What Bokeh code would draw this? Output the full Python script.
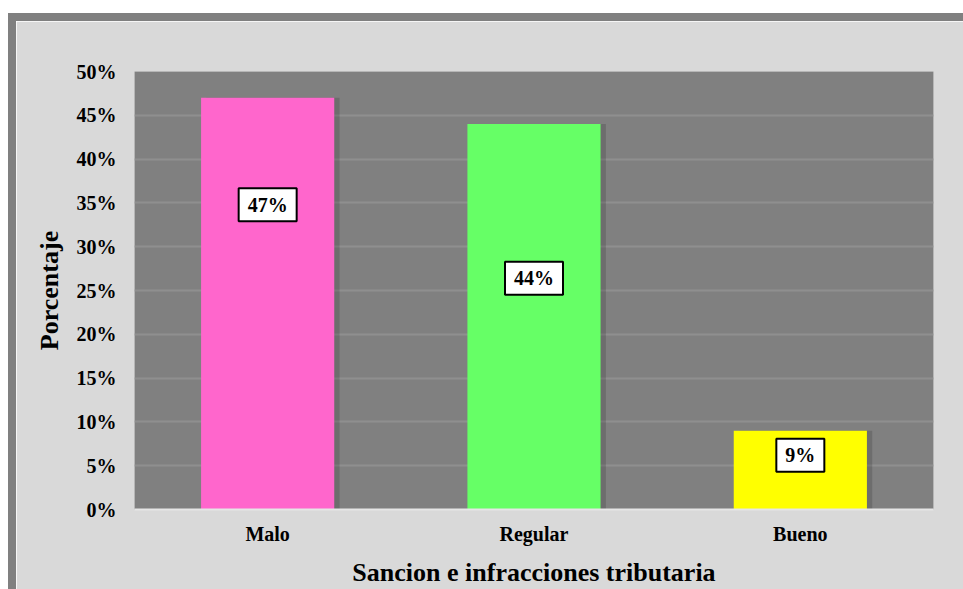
from bokeh.plotting import figure
from bokeh.models import ColumnDataSource, FactorRange, Range1d, NumeralTickFormatter, FixedTicker
from bokeh.core.properties import value
from bokeh.transform import dodge
from bokeh.embed import file_html
from bokeh.resources import INLINE

categories = ["Malo", "Regular", "Bueno"]
values = [0.47, 0.44, 0.09]
labels = ["47%", "44%", "9%"]
label_pos = [0.348, 0.264, 0.062]
colors = ["#ff66cc", "#66ff66", "#ffff00"]
y_ticks = [0, 0.05, 0.10, 0.15, 0.20, 0.25, 0.30, 0.35, 0.40, 0.45, 0.50]

FONT = "Liberation Serif"
LABEL_PX = 20
box_w = [LABEL_PX * (0.5 * (len(s) - 1) + 1.0) + 18 for s in labels]

src = ColumnDataSource(dict(cat=categories, val=values, lab=labels, lpos=label_pos,
                            col=colors, bw=box_w))

p = figure(width=955, height=576, x_range=FactorRange(*categories, range_padding=0),
           y_range=Range1d(0, 0.5), output_backend="svg", toolbar_location=None,
           min_border_left=118, min_border_right=38, min_border_top=50, min_border_bottom=88)
p.styles = {"border-top": "8px solid #808080", "border-left": "8px solid #808080",
            "margin-top": "13px", "margin-left": "8px"}

p.background_fill_color = "#808080"
p.border_fill_color = "#d9d9d9"
p.outline_line_color = None

p.vbar(x=dodge("cat", 0.02, range=p.x_range), top="val", width=0.5, source=src,
       fill_color="black", fill_alpha=0.15, line_color=None)
p.vbar(x="cat", top="val", width=0.5, source=src, fill_color="col", line_color=None)

p.rect(x="cat", y="lpos", width="bw", height=33, width_units="screen", height_units="screen",
       source=src, fill_color="white", line_color="black", line_width=2)
p.text(x="cat", y="lpos", text="lab", source=src, text_align="center", text_baseline="middle",
       text_font=value(FONT), text_font_style="bold", text_font_size=f"{LABEL_PX}px",
       text_color="black")

p.xgrid.grid_line_color = None
p.ygrid.grid_line_color = "#8f8f8f"
p.ygrid.grid_line_width = 2
p.yaxis.ticker = FixedTicker(ticks=y_ticks)
p.yaxis.formatter = NumeralTickFormatter(format="0%")

for ax in (p.xaxis[0], p.yaxis[0]):
    ax.major_tick_line_color = None
    ax.minor_tick_line_color = None
    ax.major_label_text_font = FONT
    ax.major_label_text_font_style = "bold"
    ax.major_label_text_font_size = "20px"
    ax.major_label_text_color = "black"
    ax.axis_label_text_font = FONT
    ax.axis_label_text_font_style = "bold"
    ax.axis_label_text_font_size = "26px"
    ax.axis_label_text_color = "black"

p.yaxis.axis_line_color = None
p.xaxis.axis_line_color = "#e6e6e6"
p.xaxis.axis_line_width = 2
p.yaxis.major_label_standoff = 12
p.xaxis.major_label_standoff = 7
p.yaxis.axis_label = "Porcentaje"
p.xaxis.axis_label = "Sancion e infracciones tributaria"
p.yaxis.axis_label_standoff = 10
p.xaxis.axis_label_standoff = 10

open("out.html", "w").write(file_html(p, INLINE))
